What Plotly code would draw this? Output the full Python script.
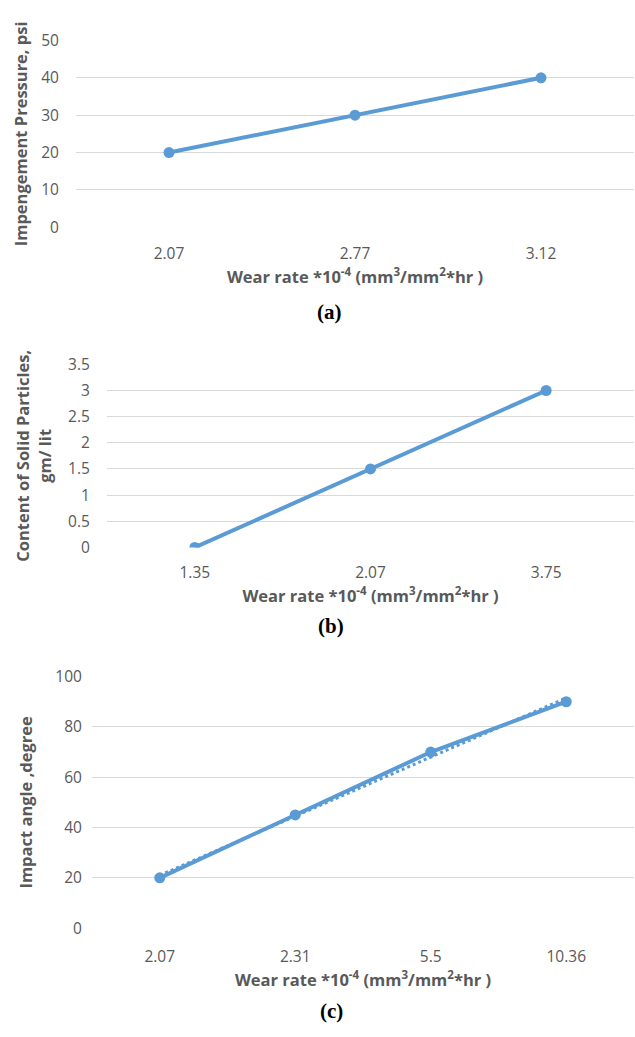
import plotly.graph_objects as go

# Panel (a)
cats_a = ["2.07", "2.77", "3.12"]
vals_a = [20, 30, 40]
# Panel (b)
cats_b = ["1.35", "2.07", "3.75"]
vals_b = [0, 1.5, 3]
# Panel (c)
cats_c = ["2.07", "2.31", "5.5", "10.36"]
vals_c = [20, 45, 70, 90]
trend_c_x = ["2.07", "10.36"]
trend_c = [21, 91.5]

W, H = 635, 1037
BLUE = "#5B9BD5"
GRID = "#D9D9D9"
TXT = "#595959"
FONT = "Open Sans"

def py(p):
    return 1 - p / H

fig = go.Figure()
line = dict(color=BLUE, width=4)
mk = dict(color=BLUE, size=11)
fig.add_trace(go.Scatter(x=cats_a, y=vals_a, mode="lines+markers", line=line, marker=mk, xaxis="x", yaxis="y"))
fig.add_trace(go.Scatter(x=cats_b, y=vals_b, mode="lines+markers", line=line, marker=mk, xaxis="x2", yaxis="y2"))
fig.add_trace(go.Scatter(x=trend_c_x, y=trend_c, mode="lines", line=dict(color=BLUE, width=3, dash="dot"), xaxis="x3", yaxis="y3"))
fig.add_trace(go.Scatter(x=cats_c, y=vals_c, mode="lines+markers", line=line, marker=mk, xaxis="x3", yaxis="y3"))

xtitle = "<b>Wear rate *10<sup>-4</sup> (mm<sup>3</sup>/mm<sup>2</sup>*hr )</b>"
tf = dict(family=FONT, size=16.5, color=TXT)
tkf = dict(family=FONT, size=15.5, color=TXT)

def xax(dom, n, anchor, cats, tl, so):
    return dict(domain=dom, type="category", categoryarray=cats, range=[-0.5, n - 0.5],
                showgrid=False, showline=False, zeroline=False, ticks="outside", ticklen=tl,
                tickcolor="rgba(0,0,0,0)", tickfont=tkf, anchor=anchor,
                title=dict(text=xtitle, font=tf, standoff=so), fixedrange=True)

def yax(dom, rng, dt, anchor, title, tl, so):
    return dict(domain=dom, range=rng, dtick=dt, showgrid=True, gridcolor=GRID, gridwidth=1.3,
                zeroline=False, showline=False, ticks="outside", ticklen=tl,
                tickcolor="rgba(0,0,0,0)", tickfont=tkf, anchor=anchor,
                title=dict(text=title, font=tf, standoff=so), fixedrange=True)

fig.update_layout(
    width=W, height=H, margin=dict(l=0, r=0, t=0, b=0),
    paper_bgcolor="white", plot_bgcolor="white", showlegend=False,
    xaxis=xax([76 / W, 634 / W], 3, "y", cats_a, 12, 6),
    yaxis=yax([py(220), py(29)], [0, 50], 10, "x", "<b>Impengement Pressure, psi</b>", 13, 9),
    xaxis2=xax([107 / W, 634 / W], 3, "y2", cats_b, 11, 6),
    yaxis2=yax([py(547), py(360)], [0, 3.5], 0.5, "x2", "<b>Content of Solid Particles,<br>gm/ lit</b>", 13, 12),
    xaxis3=xax([92 / W, 634 / W], 4, "y3", cats_c, 14, 8),
    yaxis3=yax([py(936), py(679)], [0, 100], 20, "x3", "<b>Impact angle ,degree</b>", 6, 18),
)

lab = dict(family="Liberation Serif", size=21, color="black")
for txt, x, y in [("<b>(a)</b>", 329, 307), ("<b>(b)</b>", 331, 627), ("<b>(c)</b>", 331, 1021)]:
    fig.add_annotation(text=txt, x=x / W, y=py(y), xref="paper", yref="paper",
                       showarrow=False, font=lab, xanchor="center", yanchor="middle")

fig.write_html("out.html")
